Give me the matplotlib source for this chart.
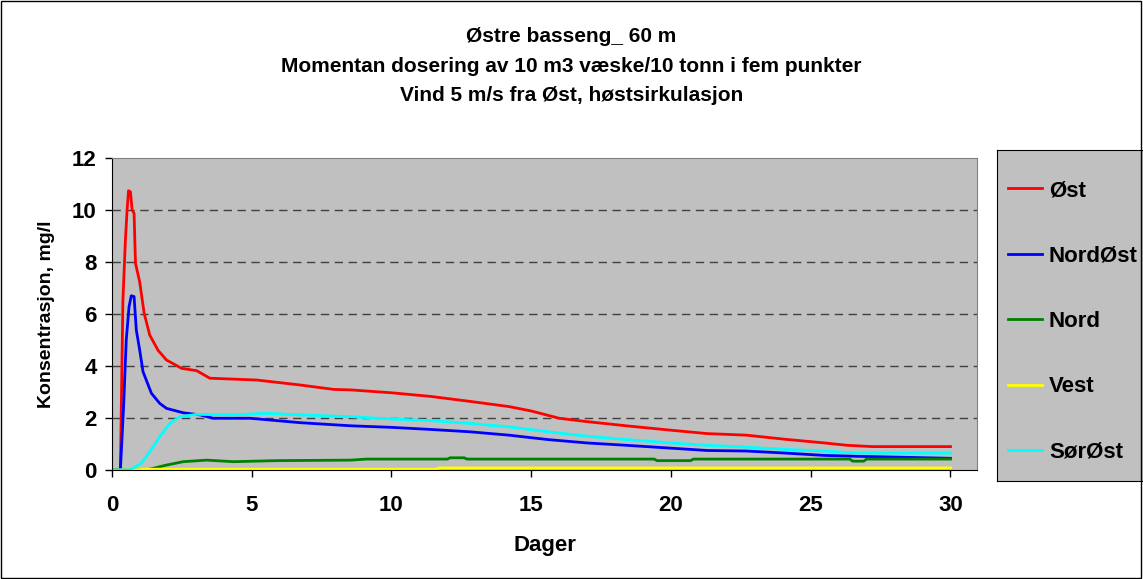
import matplotlib.pyplot as plt
from matplotlib.lines import Line2D
from matplotlib.patches import Rectangle

plt.rcParams['font.family'] = ['Liberation Sans', 'DejaVu Sans']
plt.rcParams['font.weight'] = 'bold'

# data (days, mg/l)
ost_t = [0, 0.3, 0.39, 0.48, 0.54, 0.59, 0.66, 0.72, 0.79, 0.84, 0.99, 1.15, 1.35, 1.65, 1.95,
         2.49, 3.03, 3.5, 5.18, 6.73, 7.93, 8.55, 10.0, 11.4, 12.8, 14.2, 15.0, 16.0, 17.0, 18.4,
         20.0, 21.3, 22.7, 24.1, 25.5, 26.3, 27.2, 30.0]
ost = [0, 0, 6.5, 8.85, 10.0, 10.74, 10.7, 10.0, 9.87, 7.95, 7.24, 6.03, 5.19, 4.6, 4.23,
       3.91, 3.82, 3.53, 3.46, 3.27, 3.10, 3.08, 2.97, 2.83, 2.64, 2.44, 2.27, 1.99, 1.86, 1.70,
       1.53, 1.40, 1.34, 1.18, 1.04, 0.95, 0.9, 0.9]

nordost_t = [0, 0.3, 0.42, 0.51, 0.61, 0.69, 0.79, 0.87, 0.99, 1.11, 1.41, 1.71, 1.95, 2.55,
             3.15, 3.62, 4.94, 6.73, 8.55, 10.0, 11.4, 12.8, 14.2, 15.6, 17.0, 18.4, 20.0, 21.3,
             22.7, 24.1, 25.5, 26.9, 28.3, 30.0]
nordost = [0, 0, 2.56, 5.0, 6.28, 6.7, 6.67, 5.38, 4.62, 3.78, 2.95, 2.56, 2.37, 2.2,
           2.12, 1.99, 1.99, 1.82, 1.70, 1.64, 1.56, 1.47, 1.34, 1.17, 1.04, 0.95, 0.84, 0.75,
           0.73, 0.65, 0.56, 0.52, 0.49, 0.45]

nord_t = [0, 1.23, 1.95, 2.55, 3.39, 4.34, 5.9, 8.55, 9.1, 12.0, 12.1, 12.6, 12.7, 19.4, 19.5,
          20.7, 20.8, 26.4, 26.5, 26.9, 27.0, 30.0]
nord = [0, 0, 0.19, 0.32, 0.38, 0.32, 0.36, 0.38, 0.42, 0.42, 0.47, 0.47, 0.42, 0.42, 0.36,
        0.36, 0.42, 0.42, 0.34, 0.34, 0.42, 0.42]

vest_t = [0, 0.8, 1.2, 11.6, 11.7, 30.0]
vest = [0, 0, 0.03, 0.03, 0.08, 0.08]

sorost_t = [0, 0.63, 1.05, 1.35, 1.71, 2.07, 2.43, 3.03, 4.34, 5.54, 6.73, 8.55, 10.0, 11.4,
            12.8, 14.2, 15.6, 17.0, 18.4, 20.0, 21.3, 22.7, 24.1, 25.5, 26.6, 30.0]
sorost = [0, 0, 0.26, 0.7, 1.28, 1.79, 2.05, 2.14, 2.12, 2.18, 2.12, 2.05, 1.96, 1.9,
          1.79, 1.66, 1.47, 1.30, 1.17, 1.04, 0.95, 0.88, 0.79, 0.73, 0.65, 0.65]

names = ['Øst', 'NordØst', 'Nord', 'Vest', 'SørØst']
colors = ['#FF0000', '#0000FF', '#008000', '#FFFF00', '#00FFFF']

fig = plt.figure(figsize=(11.43, 5.79), dpi=100)
fig.patches.append(Rectangle((0.0005, 0.001), 0.998, 0.997, transform=fig.transFigure,
                             fill=False, edgecolor='black', lw=1))

ax = fig.add_axes([112/1143, 1 - 470/579, 865/1143, 312/579])
ax.set_facecolor('#C0C0C0')
series = [(ost_t, ost), (nordost_t, nordost), (nord_t, nord), (vest_t, vest), (sorost_t, sorost)]
for (t, v), c, n in zip(series, colors, names):
    ax.plot(t, v, color=c, lw=2, label=n)

ax.set_xlim(0, 30.95)
ax.set_ylim(0, 12)
ax.set_xticks(range(0, 31, 5))
ax.set_yticks(range(0, 13, 2))
ax.tick_params(labelsize=16, length=5, width=1, direction='out')
ax.tick_params(axis='x', pad=13)
ax.tick_params(axis='y', pad=6)
for y in range(2, 12, 2):
    ax.axhline(y, color='#404040', lw=1, ls=(0, (6, 4)), zorder=1)
for s in ['top', 'right']:
    ax.spines[s].set_color('#808080')
ax.set_xlabel('Dager', fontsize=16, fontweight='bold', labelpad=14)
ax.set_ylabel('Konsentrasjon, mg/l', fontsize=14, fontweight='bold', labelpad=12)

fig.text(0.5, 1 - 37/579, 'Østre basseng_ 60 m', ha='center', va='center', fontsize=15, fontweight='bold')
fig.text(0.5, 1 - 66/579, 'Momentan dosering av 10 m3 væske/10 tonn i fem punkter',
         ha='center', va='center', fontsize=15, fontweight='bold')
fig.text(0.5, 1 - 95/579, 'Vind 5 m/s fra Øst, høstsirkulasjon', ha='center', va='center',
         fontsize=15, fontweight='bold')

# legend box
lax = fig.add_axes([997/1143, 1 - 481/579, 160/1143, 331/579])
lax.set_facecolor('#C0C0C0')
lax.set_xticks([])
lax.set_yticks([])
for s in lax.spines.values():
    s.set_color('black')
handles = [Line2D([0], [0], color=c, lw=2) for c in colors]
lax.legend(handles, names, loc='center left', bbox_to_anchor=(0.012, 0.482), frameon=False,
           fontsize=16, labelspacing=2.0, handlelength=1.53, handletextpad=0.32,
           borderaxespad=0)

fig.savefig('out.png', dpi=100)
